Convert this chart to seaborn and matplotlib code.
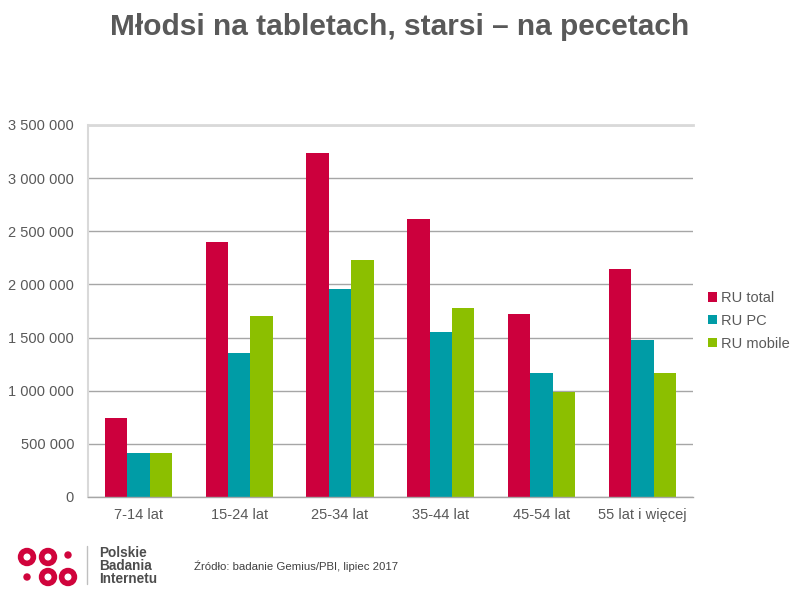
import matplotlib.pyplot as plt
import matplotlib.ticker as mticker
import pandas as pd
import seaborn as sns
from matplotlib.patches import Circle

groups = ["7-14 lat", "15-24 lat", "25-34 lat", "35-44 lat", "45-54 lat", "55 lat i więcej"]
series = ["RU total", "RU PC", "RU mobile"]
ru_total = [740000, 2396000, 3237000, 2616000, 1722000, 2145000]
ru_pc = [417000, 1355000, 1957000, 1550000, 1167000, 1477000]
ru_mobile = [417000, 1706000, 2230000, 1775000, 991000, 1167000]
yticks = [0, 500000, 1000000, 1500000, 2000000, 2500000, 3000000, 3500000]

colors = ["#CC003D", "#009CA6", "#8CBF00"]
text_gray = "#595959"

rows = []
for name, vals in zip(series, [ru_total, ru_pc, ru_mobile]):
    for g, v in zip(groups, vals):
        rows.append({"grupa": g, "seria": name, "wartosc": v})
df = pd.DataFrame(rows)

sns.set_theme(style="white")
plt.rcParams["font.family"] = ["Liberation Sans", "DejaVu Sans"]

fig = plt.figure(figsize=(8, 6), dpi=100)
ax = fig.add_axes([0.11, 0.1717, 0.756, 0.62])

sns.barplot(data=df, x="grupa", y="wartosc", hue="seria", order=groups,
            hue_order=series, palette=colors, width=0.665, linewidth=0,
            saturation=1, ax=ax)

ax.set_ylim(0, 3500000)
ax.set_yticks(yticks)
ax.yaxis.set_major_formatter(
    mticker.FuncFormatter(lambda v, _: f"{int(v):,}".replace(",", " ")))
ax.set_xlabel("")
ax.set_ylabel("")
ax.tick_params(axis="both", length=0, labelsize=10.5, colors=text_gray)
ax.tick_params(axis="y", pad=10)
ax.tick_params(axis="x", pad=8)

ax.set_axisbelow(True)
ax.yaxis.grid(True, color="#A6A6A6", linewidth=1)
ax.spines["right"].set_visible(False)
ax.spines["top"].set_color("#D9D9D9")
ax.spines["top"].set_linewidth(2)
ax.spines["left"].set_color("#D9D9D9")
ax.spines["left"].set_linewidth(1.5)
ax.spines["bottom"].set_color("#A6A6A6")
ax.spines["bottom"].set_linewidth(1)

handles, labels = ax.get_legend_handles_labels()
ax.legend(handles, labels, loc="center left", bbox_to_anchor=(0.878, 0.465),
          bbox_transform=fig.transFigure, frameon=False, fontsize=10.5,
          handlelength=0.6, handleheight=0.6, handletextpad=0.3,
          labelspacing=0.6, labelcolor=text_gray, borderaxespad=0)

fig.text(0.5, 0.955, "Młodsi na tabletach, starsi – na pecetach", ha="center",
         va="center", fontsize=21.5, fontweight="bold", color=text_gray)

# logo PBI
logo = fig.add_axes([0, 0, 0.1125, 0.1], xlim=(0, 90), ylim=(60, 0))
logo.set_axis_off()
logo.set_aspect("equal")
logo_red = "#D0043C"
for cx, cy in [(27, 557), (48, 557), (48, 577), (68, 577)]:
    logo.add_patch(Circle((cx, cy - 540), 8.5, color=logo_red))
    logo.add_patch(Circle((cx, cy - 540), 2.8, color="white"))
for cx, cy in [(68, 555), (27, 577)]:
    logo.add_patch(Circle((cx, cy - 540), 3, color=logo_red))
fig.add_artist(plt.Line2D([87 / 800, 87 / 800], [1 - 546 / 600, 1 - 584 / 600],
                          color="#BFBFBF", linewidth=1))
for i, word in enumerate(["Polskie", "Badania", "Internetu"]):
    fig.text(99 / 800, 1 - (553 + i * 12.8) / 600, word, fontsize=9.8,
             fontweight="bold", color="#4D4D4D", va="center", ha="left")
fig.text(194 / 800, 1 - 566 / 600, "Źródło: badanie Gemius/PBI, lipiec 2017",
         fontsize=8.2, color="#404040", va="center", ha="left")

fig.savefig("out.png", dpi=100)
